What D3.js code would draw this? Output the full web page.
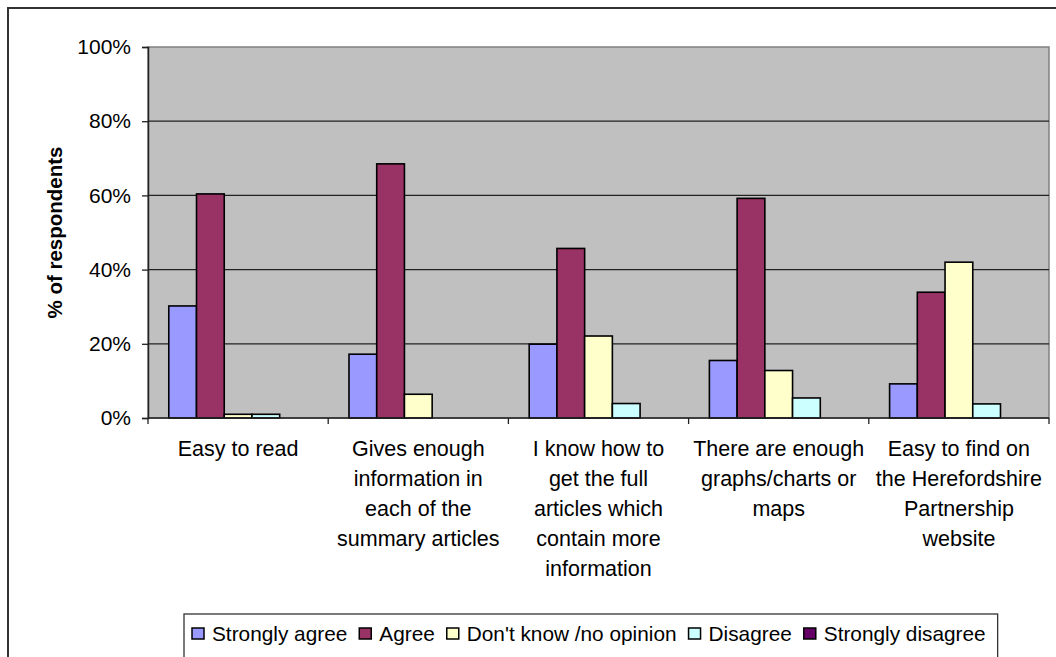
<!DOCTYPE html>
<html>
<head>
<meta charset="utf-8">
<script src="https://cdn.jsdelivr.net/npm/d3@7"></script>
<style>
  body { margin: 0; background: #fff; }
  svg { display: block; font-family: "Liberation Sans", Arial, sans-serif; }
</style>
</head>
<body>
<svg id="chart" width="1056" height="657"></svg>
<script>
// categories, each one as the wrapped lines shown under the axis
var categories = [
  ["Easy to read"],
  ["Gives enough", "information in", "each of the", "summary articles"],
  ["I know  how  to", "get the full", "articles which", "contain more", "information"],
  ["There are enough", "graphs/charts or", "maps"],
  ["Easy to find on", "the Herefordshire", "Partnership", "website"]
];
var series = ["Strongly agree", "Agree", "Don't know /no opinion", "Disagree", "Strongly disagree"];
var colors = ["#9999FF", "#993366", "#FFFFCC", "#CCFFFF", "#660066"];

// % of respondents, one array per series (same order as categories)
var stronglyAgree    = [30.2, 17.2, 19.9, 15.5, 9.2];
var agree            = [60.4, 68.5, 45.7, 59.2, 33.9];
var dontKnow         = [1.0, 6.4, 22.1, 12.8, 42.0];
var disagree         = [1.0, 0, 3.9, 5.4, 3.8];
var stronglyDisagree = [0, 0, 0, 0, 0];
var yTicks = [0, 20, 40, 60, 80, 100];

var values = [stronglyAgree, agree, dontKnow, disagree, stronglyDisagree];

var svg = d3.select('#chart');
var pLeft = 148, pRight = 1049, pTop = 47, pBottom = 418;

// outer chart border
svg.append('rect')
   .attr('x', 8).attr('y', 8)
   .attr('width', 1070).attr('height', 670)
   .attr('fill', '#fff').attr('stroke', '#333').attr('stroke-width', 2);

var x0 = d3.scaleBand()
    .domain(d3.range(categories.length))
    .range([pLeft, pRight]);
var bw = x0.bandwidth() / 6.5;   // excel gap width 150%
var x1 = d3.scaleBand()
    .domain(d3.range(series.length))
    .range([0.75 * bw, 5.75 * bw]);
var y = d3.scaleLinear().domain([0, 100]).range([pBottom, pTop]);

// plot area
svg.append('rect')
   .attr('x', pLeft).attr('y', pTop)
   .attr('width', pRight - pLeft).attr('height', pBottom - pTop)
   .attr('fill', '#C0C0C0').attr('stroke', '#808080').attr('stroke-width', 1.5);

// gridlines
svg.append('g').selectAll('line')
   .data(yTicks.filter(function(d){ return d > 0 && d < 100; }))
   .enter().append('line')
   .attr('x1', pLeft).attr('x2', pRight)
   .attr('y1', function(d){ return y(d); }).attr('y2', function(d){ return y(d); })
   .attr('stroke', '#222').attr('stroke-width', 1.3);

// bars
var rows = [];
for (var s = 0; s < series.length; s++) {
  for (var c = 0; c < categories.length; c++) {
    if (values[s][c] > 0) rows.push({s: s, c: c, v: values[s][c]});
  }
}
svg.append('g').selectAll('rect')
   .data(rows)
   .enter().append('rect')
   .attr('x', function(d){ return x0(d.c) + x1(d.s); })
   .attr('y', function(d){ return y(d.v); })
   .attr('width', x1.bandwidth())
   .attr('height', function(d){ return pBottom - y(d.v); })
   .attr('fill', function(d){ return colors[d.s]; })
   .attr('stroke', '#000').attr('stroke-width', 1.6);

// y axis
var yAxis = d3.axisLeft(y)
    .tickValues(yTicks)
    .tickSize(6)
    .tickPadding(11)
    .tickFormat(function(d){ return d + '%'; });
var gy = svg.append('g').attr('transform', 'translate(' + pLeft + ',0)').call(yAxis);
gy.select('.domain').attr('stroke', '#222').attr('stroke-width', 1.5);
gy.selectAll('.tick line').attr('stroke', '#222').attr('stroke-width', 1.3);
gy.selectAll('.tick text')
  .attr('font-size', 21).attr('fill', '#000')
  .attr('font-family', '"Liberation Sans", Arial, sans-serif');

// x axis, ticks at category boundaries
var xBounds = d3.range(categories.length + 1).map(function(i){
  return i < categories.length ? x0(i) : pRight;
});
svg.append('line')
   .attr('x1', pLeft).attr('x2', pRight)
   .attr('y1', pBottom).attr('y2', pBottom)
   .attr('stroke', '#222').attr('stroke-width', 1.5);
svg.append('g').selectAll('line')
   .data(xBounds)
   .enter().append('line')
   .attr('x1', function(d){ return d; }).attr('x2', function(d){ return d; })
   .attr('y1', pBottom).attr('y2', pBottom + 6)
   .attr('stroke', '#222').attr('stroke-width', 1.3);

// category labels
var catLabels = svg.append('g').selectAll('text')
   .data(categories)
   .enter().append('text')
   .attr('text-anchor', 'middle')
   .attr('font-size', 21.5)
   .attr('fill', '#000');
catLabels.each(function(lines, i) {
  var t = d3.select(this);
  lines.forEach(function(line, j) {
    t.append('tspan')
     .attr('x', x0(i) + x0.bandwidth() / 2)
     .attr('y', 456 + j * 30)
     .text(line);
  });
});

// y axis title
svg.append('text')
   .attr('transform', 'translate(62,' + ((pTop + pBottom) / 2) + ') rotate(-90)')
   .attr('text-anchor', 'middle')
   .attr('font-size', 20.5)
   .attr('font-weight', 'bold')
   .text('% of respondents');

// legend
var legend = svg.append('g');
var legBox = legend.append('rect')
   .attr('y', 614).attr('height', 44)
   .attr('fill', '#fff').attr('stroke', '#333').attr('stroke-width', 1.3);
var lx = 192;
series.forEach(function(name, i) {
  legend.append('rect')
     .attr('x', lx).attr('y', 628)
     .attr('width', 12).attr('height', 11)
     .attr('fill', colors[i]).attr('stroke', '#000').attr('stroke-width', 1.5);
  var t = legend.append('text')
     .attr('x', lx + 20).attr('y', 641)
     .attr('font-size', 20.8)
     .text(name);
  lx = lx + 20 + t.node().getComputedTextLength() + 12;
});
legBox.attr('x', 184).attr('width', lx - 184);
</script>
</body>
</html>
